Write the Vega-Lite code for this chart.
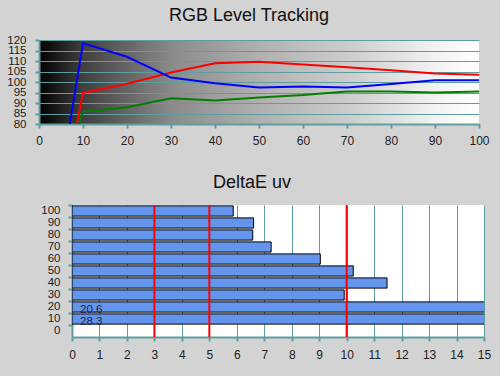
{
  "$schema": "https://vega.github.io/schema/vega-lite/v6.json",
  "background": "#d3d3d3",
  "padding": {"left": 6, "top": 7, "right": 10, "bottom": 18},
  "spacing": 28,
  "config": {
    "font": "Liberation Sans",
    "axis": {
      "domainColor": "#5f9ea0",
      "domainWidth": 2,
      "tickColor": "#5f9ea0",
      "tickWidth": 2,
      "tickSize": 4,
      "gridColor": "#5f9ea0",
      "gridWidth": 1,
      "gridOpacity": 1,
      "labelFont": "Liberation Sans",
      "labelFontSize": 12,
      "labelColor": "#222222",
      "labelOverlap": false,
      "labelFlush": false,
      "title": null
    },
    "title": {"font": "Liberation Sans", "fontSize": 18, "fontWeight": "normal", "color": "#111111"}
  },
  "vconcat": [
    {
      "title": {"text": "RGB Level Tracking", "dx": -10, "offset": 9},
      "width": 440,
      "height": 84,
      "view": {
        "stroke": null,
        "fill": {
          "gradient": "linear",
          "x1": 0, "y1": 0, "x2": 1, "y2": 0,
          "stops": [
            {"offset": 0, "color": "#000000"},
            {"offset": 0.1, "color": "#404040"},
            {"offset": 0.3, "color": "#8a8a8a"},
            {"offset": 0.5, "color": "#b0b0b0"},
            {"offset": 0.7, "color": "#cccccc"},
            {"offset": 0.9, "color": "#f2f2f2"},
            {"offset": 1, "color": "#ffffff"}
          ]
        }
      },
      "data": {
        "values": [
          {"channel": "Red", "level": 8.6, "value": 80},
          {"channel": "Red", "level": 10, "value": 94.8},
          {"channel": "Red", "level": 20, "value": 99.2},
          {"channel": "Red", "level": 30, "value": 104.5},
          {"channel": "Red", "level": 40, "value": 108.9},
          {"channel": "Red", "level": 50, "value": 109.6},
          {"channel": "Red", "level": 60, "value": 108.3},
          {"channel": "Red", "level": 70, "value": 107.0},
          {"channel": "Red", "level": 80, "value": 105.6},
          {"channel": "Red", "level": 90, "value": 104.0},
          {"channel": "Red", "level": 100, "value": 103.5},
          {"channel": "Green", "level": 9.1, "value": 80},
          {"channel": "Green", "level": 10, "value": 85.9},
          {"channel": "Green", "level": 20, "value": 88.0},
          {"channel": "Green", "level": 30, "value": 92.3},
          {"channel": "Green", "level": 40, "value": 91.2},
          {"channel": "Green", "level": 50, "value": 92.6},
          {"channel": "Green", "level": 60, "value": 93.8},
          {"channel": "Green", "level": 70, "value": 95.5},
          {"channel": "Green", "level": 80, "value": 95.5},
          {"channel": "Green", "level": 90, "value": 95.0},
          {"channel": "Green", "level": 100, "value": 95.5},
          {"channel": "Blue", "level": 7.0, "value": 80},
          {"channel": "Blue", "level": 10, "value": 118.4},
          {"channel": "Blue", "level": 20, "value": 112.0},
          {"channel": "Blue", "level": 30, "value": 102.1},
          {"channel": "Blue", "level": 40, "value": 99.4},
          {"channel": "Blue", "level": 50, "value": 97.4},
          {"channel": "Blue", "level": 60, "value": 97.9},
          {"channel": "Blue", "level": 70, "value": 97.4},
          {"channel": "Blue", "level": 80, "value": 99.0},
          {"channel": "Blue", "level": 90, "value": 100.8},
          {"channel": "Blue", "level": 100, "value": 100.8}
        ]
      },
      "mark": {"type": "line", "strokeWidth": 2, "clip": true},
      "encoding": {
        "x": {
          "field": "level", "type": "quantitative",
          "scale": {"domain": [0, 100], "nice": false},
          "axis": {"values": [0, 10, 20, 30, 40, 50, 60, 70, 80, 90, 100], "grid": false, "labelPadding": 7, "labelFlush": false, "labelOverlap": false}
        },
        "y": {
          "field": "value", "type": "quantitative",
          "scale": {"domain": [80, 120], "nice": false, "zero": false},
          "axis": {"values": [80, 85, 90, 95, 100, 105, 110, 115, 120], "grid": true, "labelPadding": 9, "labelFontSize": 11.5, "labelFlush": false, "labelOverlap": false}
        },
        "color": {
          "field": "channel", "type": "nominal",
          "scale": {"domain": ["Red", "Green", "Blue"], "range": ["#ff0000", "#008000", "#0000ff"]},
          "legend": null
        },
        "order": {"field": "level", "type": "quantitative"}
      }
    },
    {
      "spacing": 0,
      "hconcat": [
        {
          "width": 1,
          "height": 132,
          "view": {"stroke": null, "fill": null},
          "data": {"values": []},
          "mark": {"type": "point", "opacity": 0},
          "encoding": {}
        },
        {
          "title": {"text": "DeltaE uv", "dx": -26, "offset": 12},
          "width": 412,
          "height": 132,
          "view": {"stroke": null, "fill": "#ffffff"},
          "data": {
            "values": [
              {"level": 100, "deltaE": 5.87},
              {"level": 90, "deltaE": 6.61},
              {"level": 80, "deltaE": 6.58},
              {"level": 70, "deltaE": 7.25},
              {"level": 60, "deltaE": 9.04},
              {"level": 50, "deltaE": 10.24},
              {"level": 40, "deltaE": 11.47},
              {"level": 30, "deltaE": 9.91},
              {"level": 20, "deltaE": 20.6},
              {"level": 10, "deltaE": 28.3}
            ]
          },
          "layer": [
            {
              "mark": {"type": "bar", "fill": "#6495ed", "stroke": "#000000", "strokeWidth": 1, "clip": true},
              "encoding": {
                "x": {
                  "field": "deltaE", "type": "quantitative",
                  "scale": {"domain": [0, 15], "nice": false},
                  "axis": {"values": [0, 1, 2, 3, 4, 5, 6, 7, 8, 9, 10, 11, 12, 13, 14, 15], "grid": true, "labelPadding": 8, "labelFlush": false, "labelOverlap": false}
                },
                "y": {
                  "field": "level", "type": "ordinal",
                  "scale": {"domain": [100, 90, 80, 70, 60, 50, 40, 30, 20, 10, 0], "paddingInner": 0.15, "paddingOuter": 0.075},
                  "axis": {"bandPosition": 0, "labelPadding": 8, "labelFontSize": 11.5, "labelOverlap": false}
                }
              }
            },
            {
              "data": {"values": [{"limit": 3}, {"limit": 5}, {"limit": 10}]},
              "mark": {"type": "rule", "color": "#ff0000", "strokeWidth": 2},
              "encoding": {
                "x": {
                  "field": "limit", "type": "quantitative",
                  "axis": {"values": [0, 1, 2, 3, 4, 5, 6, 7, 8, 9, 10, 11, 12, 13, 14, 15], "grid": true, "labelPadding": 8, "labelFlush": false, "labelOverlap": false}
                }
              }
            },
            {
              "transform": [{"filter": "datum.deltaE > 15"}],
              "mark": {"type": "text", "align": "left", "baseline": "middle", "dx": 8, "dy": 3, "fontSize": 11.5, "color": "#1b2440"},
              "encoding": {
                "x": {
                  "datum": 0, "type": "quantitative",
                  "axis": {"values": [0, 1, 2, 3, 4, 5, 6, 7, 8, 9, 10, 11, 12, 13, 14, 15], "grid": true, "labelPadding": 8, "labelFlush": false, "labelOverlap": false}
                },
                "y": {"field": "level", "type": "ordinal"},
                "text": {"field": "deltaE", "type": "quantitative", "format": ".1f"}
              }
            }
          ]
        }
      ]
    }
  ]
}
